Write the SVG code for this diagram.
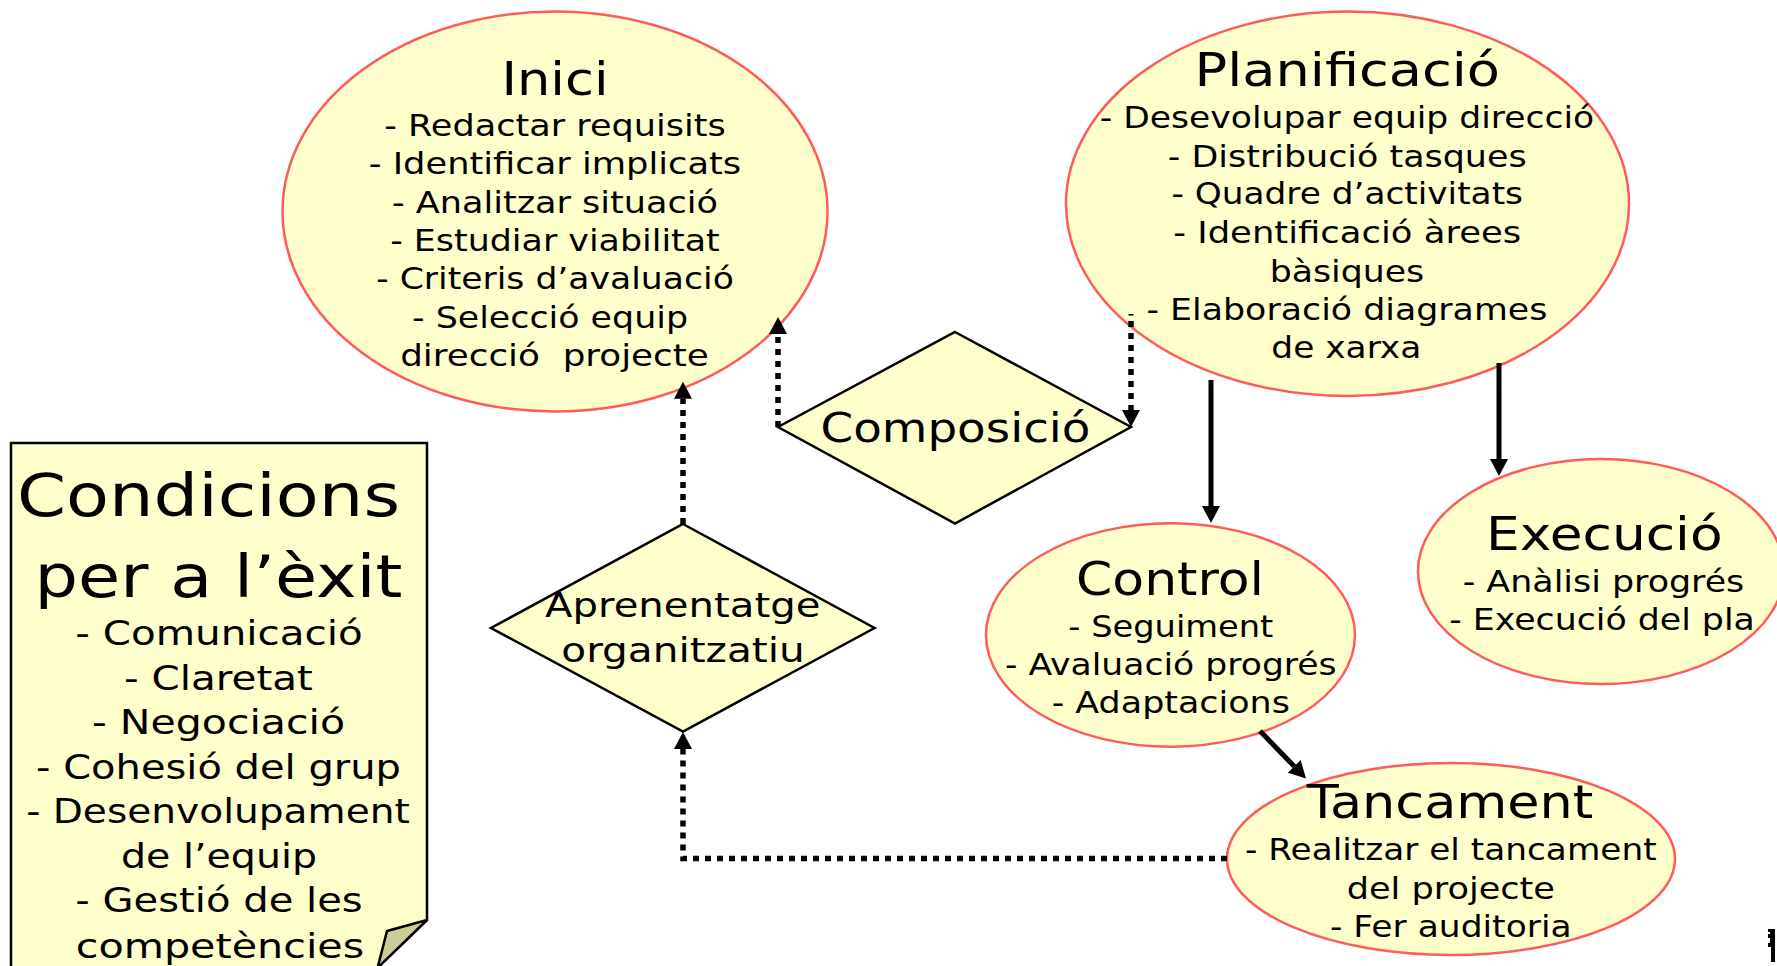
<svg xmlns="http://www.w3.org/2000/svg" width="1777" height="966" viewBox="0 0 1777 966">
  <style>
    text { font-family: "DejaVu Sans", Verdana, sans-serif; fill: #000; text-anchor: middle; }
    .title { font-size: 46px; }
    .item { font-size: 30px; }
    .gate-label { font-size: 41px; }
    .gate-label2 { font-size: 34px; }
    .note-title { font-size: 58px; }
    .note-item { font-size: 34px; }
    .phase { fill: #FFFFCC; stroke: #FF5B5B; stroke-width: 2.5; }
    .gate { fill: #FFFFCC; stroke: #000; stroke-width: 2.5; stroke-linejoin: miter; }
    .note { fill: #FFFFCC; stroke: #000; stroke-width: 2.5; }
    .fold { fill: #CCCC99; stroke: #000; stroke-width: 2.5; stroke-linejoin: round; }
    .flow { fill: none; stroke: #000; stroke-width: 5; }
    .dotted { fill: none; stroke: #000; stroke-width: 5.5; stroke-dasharray: 6 6; }
  </style>
  <defs>
    <marker id="head" viewBox="0 0 17 18" markerWidth="17" markerHeight="18" refX="0" refY="9" orient="auto" markerUnits="userSpaceOnUse">
      <path d="M0,0 L17,9 L0,18 Z" fill="#000"/>
    </marker>
  </defs>

  <rect width="1777" height="966" fill="#FFFFFF"/>

  <!-- Phase: Inici -->
  <g id="inici">
    <ellipse class="phase" cx="555" cy="211.5" rx="272.5" ry="200"/>
    <text class="title" x="555" y="95" textLength="107" lengthAdjust="spacingAndGlyphs">Inici</text>
    <text class="item" x="555" y="136" textLength="341.5" lengthAdjust="spacingAndGlyphs">- Redactar requisits</text>
    <text class="item" x="555" y="174.3" textLength="372.5" lengthAdjust="spacingAndGlyphs">- Identificar implicats</text>
    <text class="item" x="555" y="212.6" textLength="326" lengthAdjust="spacingAndGlyphs">- Analitzar situació</text>
    <text class="item" x="555" y="250.9" textLength="329.6" lengthAdjust="spacingAndGlyphs">- Estudiar viabilitat</text>
    <text class="item" x="555" y="289.2" textLength="357.7" lengthAdjust="spacingAndGlyphs">- Criteris d’avaluació</text>
    <text class="item" x="550" y="327.5" textLength="276" lengthAdjust="spacingAndGlyphs">- Selecció equip</text>
    <text class="item" x="554.5" y="365.8" textLength="308.7" lengthAdjust="spacingAndGlyphs" xml:space="preserve">direcció  projecte</text>
  </g>

  <!-- Phase: Planificació -->
  <g id="planificacio">
    <ellipse class="phase" cx="1347.5" cy="203.8" rx="281.5" ry="192.2"/>
    <text class="title" x="1347.3" y="86" textLength="305.4" lengthAdjust="spacingAndGlyphs">Planificació</text>
    <text class="item" x="1347" y="128.3" textLength="494.5" lengthAdjust="spacingAndGlyphs">- Desevolupar equip direcció</text>
    <text class="item" x="1347.2" y="166.7" textLength="358.8" lengthAdjust="spacingAndGlyphs">- Distribució tasques</text>
    <text class="item" x="1347.2" y="204" textLength="351.6" lengthAdjust="spacingAndGlyphs">- Quadre d’activitats</text>
    <text class="item" x="1347.2" y="243.3" textLength="348" lengthAdjust="spacingAndGlyphs">- Identificació àrees</text>
    <text class="item" x="1346.9" y="281.7" textLength="154.5" lengthAdjust="spacingAndGlyphs">bàsiques</text>
    <text class="item" x="1346.9" y="320" textLength="400.9" lengthAdjust="spacingAndGlyphs">- Elaboració diagrames</text>
    <text class="item" x="1346.3" y="358.3" textLength="150" lengthAdjust="spacingAndGlyphs">de xarxa</text>
  </g>

  <!-- Phase: Control -->
  <g id="control">
    <ellipse class="phase" cx="1170.5" cy="635" rx="184.5" ry="111.7"/>
    <text class="title" x="1170" y="595" textLength="188" lengthAdjust="spacingAndGlyphs">Control</text>
    <text class="item" x="1170.8" y="636.7" textLength="205" lengthAdjust="spacingAndGlyphs">- Seguiment</text>
    <text class="item" x="1170.8" y="675" textLength="331.7" lengthAdjust="spacingAndGlyphs">- Avaluació progrés</text>
    <text class="item" x="1170.8" y="713.3" textLength="238.3" lengthAdjust="spacingAndGlyphs">- Adaptacions</text>
  </g>

  <!-- Phase: Execució -->
  <g id="execucio">
    <ellipse class="phase" cx="1601" cy="571.5" rx="183" ry="112.5"/>
    <text class="title" x="1604.3" y="550" textLength="236.7" lengthAdjust="spacingAndGlyphs">Execució</text>
    <text class="item" x="1603.5" y="591.7" textLength="281.6" lengthAdjust="spacingAndGlyphs">- Anàlisi progrés</text>
    <text class="item" x="1602" y="630" textLength="305.7" lengthAdjust="spacingAndGlyphs">- Execució del pla</text>
  </g>

  <!-- Phase: Tancament -->
  <g id="tancament">
    <ellipse class="phase" cx="1451" cy="859" rx="224" ry="96"/>
    <text class="title" x="1450" y="818.3" textLength="286.7" lengthAdjust="spacingAndGlyphs">Tancament</text>
    <text class="item" x="1450.8" y="860" textLength="411.7" lengthAdjust="spacingAndGlyphs">- Realitzar el tancament</text>
    <text class="item" x="1450.8" y="899" textLength="208.3" lengthAdjust="spacingAndGlyphs">del projecte</text>
    <text class="item" x="1450.8" y="936.7" textLength="241.7" lengthAdjust="spacingAndGlyphs">- Fer auditoria</text>
  </g>

  <!-- Decision: Composició -->
  <g id="composicio">
    <polygon class="gate" points="955,332 1131,427 955,523.5 778,427"/>
    <text class="gate-label" x="955.5" y="441.7" textLength="270" lengthAdjust="spacingAndGlyphs">Composició</text>
  </g>

  <!-- Decision: Aprenentatge organitzatiu -->
  <g id="aprenentatge">
    <polygon class="gate" points="683,524 874.5,628 683,731.5 491,628"/>
    <text class="gate-label2" x="682.7" y="616.7" textLength="275.4" lengthAdjust="spacingAndGlyphs">Aprenentatge</text>
    <text class="gate-label2" x="683" y="661.7" textLength="243.3" lengthAdjust="spacingAndGlyphs">organitzatiu</text>
  </g>

  <!-- Note: Condicions per a l'èxit -->
  <g id="condicions">
    <path class="note" d="M11,443 H427 V920 L377,968 H11 Z"/>
    <polygon class="fold" points="427,920 387,931 377.5,968"/>
    <text class="note-title" x="208.5" y="515.5" textLength="383" lengthAdjust="spacingAndGlyphs">Condicions</text>
    <text class="note-title" x="218.5" y="596.8" textLength="368" lengthAdjust="spacingAndGlyphs">per a l’èxit</text>
    <text class="note-item" x="219" y="644.7" textLength="287.4" lengthAdjust="spacingAndGlyphs">- Comunicació</text>
    <text class="note-item" x="218.5" y="689.8" textLength="189" lengthAdjust="spacingAndGlyphs">- Claretat</text>
    <text class="note-item" x="218.5" y="734.3" textLength="253" lengthAdjust="spacingAndGlyphs">- Negociació</text>
    <text class="note-item" x="218.5" y="778.7" textLength="365" lengthAdjust="spacingAndGlyphs">- Cohesió del grup</text>
    <text class="note-item" x="218" y="823.2" textLength="383.6" lengthAdjust="spacingAndGlyphs">- Desenvolupament</text>
    <text class="note-item" x="219" y="867.6" textLength="196" lengthAdjust="spacingAndGlyphs">de l’equip</text>
    <text class="note-item" x="219" y="912" textLength="287.5" lengthAdjust="spacingAndGlyphs">- Gestió de les</text>
    <text class="note-item" x="220" y="958.2" textLength="288.5" lengthAdjust="spacingAndGlyphs">competències</text>
  </g>

  <!-- Connectors -->
  <g id="connectors">
    <path class="dotted" d="M778,427 V334" marker-end="url(#head)"/>
    <rect x="1128.5" y="314" width="5" height="1.6" fill="#000"/>
    <path class="dotted" d="M1131,321 V410" marker-end="url(#head)"/>
    <path class="dotted" d="M683,524 V398.7" marker-end="url(#head)"/>
    <path class="dotted" d="M1227,858.5 H683 V749" marker-end="url(#head)"/>
    <path class="flow" d="M1211,380 V506" marker-end="url(#head)"/>
    <path class="flow" d="M1499,363 V459" marker-end="url(#head)"/>
    <path class="flow" d="M1260,731 L1294.2,766.3" marker-end="url(#head)"/>
  </g>

  <!-- clipped mark at the lower right edge -->
  <path d="M1768,929 H1775 V962 H1771 V947 H1768 V943 H1770 V938 H1768 V934 H1770 V932 H1768 Z" fill="#000"/>
</svg>
